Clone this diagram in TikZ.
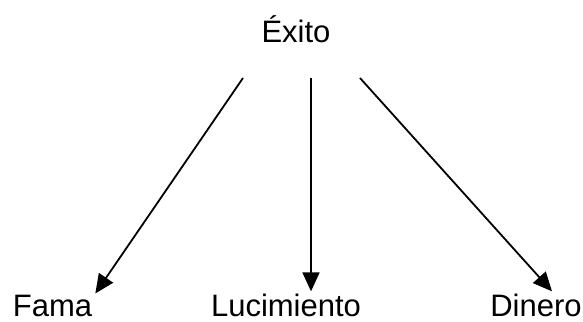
\documentclass[tikz,border=0pt]{standalone}
\usepackage{fontspec}
\setmainfont{Liberation Sans}
\usetikzlibrary{arrows.meta,calc}
\begin{document}
\begin{tikzpicture}[x=1pt,y=-1pt,
  lbl/.style={font=\fontsize{31}{36}\selectfont, inner sep=0pt, anchor=base},
  arr/.style={line width=1.8pt, -{Triangle[length=19pt,width=17pt]}}]
\useasboundingbox (0,0) rectangle (583,321);
\node[lbl] (exito) at (296,43) {Éxito};
\node[lbl] (fama) at (52.5,316) {Fama};
\node[lbl] (luci) at (286,316) {Lucimiento};
\node[lbl] (dinero) at (536,316) {Dinero};
\coordinate (s1) at (243,78);
\coordinate (s2) at (311,78);
\coordinate (s3) at (360,78);
\draw[arr] (s1) -- ($(fama.north east)+(3,-1)$);
\draw[arr] (s2) -- ($(s2 |- luci.north)+(0,-2)$);
\draw[arr] (s3) -- ($(dinero.north)+(16,-2)$);
\end{tikzpicture}
\end{document}
